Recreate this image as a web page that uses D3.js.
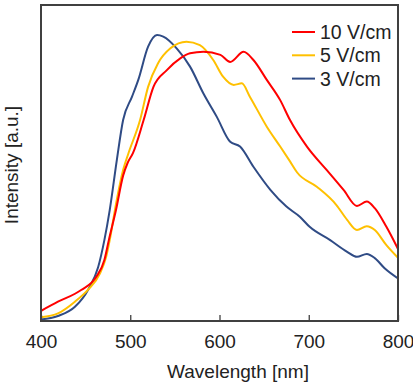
<!DOCTYPE html>
<html>
<head>
<script src="https://d3js.org/d3.v7.min.js"></script>
<style>
  body { margin: 0; background: #fff; }
  text { font-family: "Liberation Sans", Arial, sans-serif; fill: #222; }
</style>
</head>
<body>
<div id="graph"></div>
<script>
var w = 413, h = 385;
var margin = {top: 5, right: 15, bottom: 64, left: 41};

// wavelength [nm] / intensity [a.u.]
var wl10 = [400, 419, 445, 462, 471, 476, 484, 492, 497, 503, 515, 526, 541, 556, 567, 582, 601, 612, 627, 638, 653, 668, 679, 698, 720, 739, 754, 765, 774, 787, 800];
var v10  = [0.032, 0.061, 0.098, 0.14, 0.193, 0.256, 0.351, 0.46, 0.50, 0.531, 0.636, 0.741, 0.794, 0.831, 0.847, 0.852, 0.842, 0.82, 0.852, 0.826, 0.763, 0.699, 0.636, 0.552, 0.478, 0.415, 0.364, 0.378, 0.357, 0.298, 0.228];

var wl5 = [400, 419, 438, 453, 466, 473, 477, 484, 492, 498, 511, 520, 531, 545, 563, 578, 593, 604, 616, 625, 634, 653, 668, 679, 687, 709, 731, 743, 754, 765, 774, 787, 800];
var v5  = [0.012, 0.024, 0.061, 0.10, 0.15, 0.203, 0.256, 0.37, 0.478, 0.531, 0.636, 0.741, 0.815, 0.863, 0.884, 0.873, 0.826, 0.773, 0.747, 0.752, 0.71, 0.615, 0.552, 0.505, 0.47, 0.425, 0.367, 0.32, 0.288, 0.30, 0.288, 0.24, 0.20];

var wl3 = [400, 419, 438, 453, 464, 471, 477, 485, 492, 502, 509, 520, 530, 537, 552, 567, 582, 597, 612, 623, 638, 657, 675, 690, 701, 724, 743, 754, 765, 774, 785, 800];
var v3  = [0.005, 0.016, 0.045, 0.10, 0.17, 0.256, 0.351, 0.51, 0.636, 0.71, 0.763, 0.868, 0.905, 0.90, 0.863, 0.805, 0.72, 0.646, 0.567, 0.552, 0.488, 0.415, 0.362, 0.33, 0.298, 0.256, 0.219, 0.203, 0.212, 0.199, 0.167, 0.135];

var xTicks = [400, 500, 600, 700, 800];

var series = [
  {name: "10 V/cm", color: "#ff0000", x: wl10, y: v10},
  {name: "5 V/cm",  color: "#ffc000", x: wl5,  y: v5},
  {name: "3 V/cm",  color: "#2f4b85", x: wl3,  y: v3}
];

var svg = d3.select("#graph").append("svg")
  .attr("width", w)
  .attr("height", h);

var iw = w - margin.left - margin.right;
var ih = h - margin.top - margin.bottom;

var x = d3.scaleLinear().domain([400, 800]).range([0, iw]);
var y = d3.scaleLinear().domain([0, 1]).range([ih, 0]);

var g = svg.append("g")
  .attr("transform", "translate(" + margin.left + "," + margin.top + ")");

var line = d3.line()
  .curve(d3.curveMonotoneX)
  .x(function(d) { return x(d[0]); })
  .y(function(d) { return y(d[1]); });

g.append("clipPath").attr("id", "clip")
  .append("rect").attr("width", iw).attr("height", ih);

// draw blue first so red ends on top like the original
series.slice().reverse().forEach(function(s) {
  g.append("path")
    .datum(d3.zip(s.x, s.y))
    .attr("clip-path", "url(#clip)")
    .attr("fill", "none")
    .attr("stroke", s.color)
    .attr("stroke-width", 2)
    .attr("stroke-linejoin", "round")
    .attr("d", line);
});

// x axis, ticks pointing inward
var xAxis = d3.axisBottom(x).tickValues(xTicks).tickSizeInner(-6).tickSizeOuter(0).tickPadding(14);
var ax = g.append("g")
  .attr("transform", "translate(0," + ih + ")")
  .call(xAxis);
ax.select(".domain").remove();
ax.selectAll("line").attr("stroke", "#404040").attr("stroke-width", 1.3);
ax.selectAll("text")
  .attr("font-size", "19px")
  .attr("fill", "#222")
  .attr("font-family", "Liberation Sans, Arial, sans-serif");

// frame
g.append("rect")
  .attr("width", iw)
  .attr("height", ih)
  .attr("fill", "none")
  .attr("stroke", "#404040")
  .attr("stroke-width", 2);

svg.append("text")
  .attr("x", 238)
  .attr("y", 378)
  .attr("text-anchor", "middle")
  .attr("font-size", "19px")
  .text("Wavelength [nm]");

svg.append("text")
  .attr("transform", "translate(18," + 165 + ") rotate(-90)")
  .attr("text-anchor", "middle")
  .attr("font-size", "19px")
  .text("Intensity [a.u.]");

// legend
var leg = svg.append("g").attr("transform", "translate(292,32)");
series.forEach(function(s, i) {
  var row = leg.append("g").attr("transform", "translate(0," + (i * 23.3) + ")");
  row.append("line")
    .attr("x1", 0).attr("x2", 23)
    .attr("stroke", s.color)
    .attr("stroke-width", 2);
  row.append("text")
    .attr("x", 28)
    .attr("y", 7)
    .attr("font-size", "19.5px")
    .text(s.name);
});
</script>
</body>
</html>
